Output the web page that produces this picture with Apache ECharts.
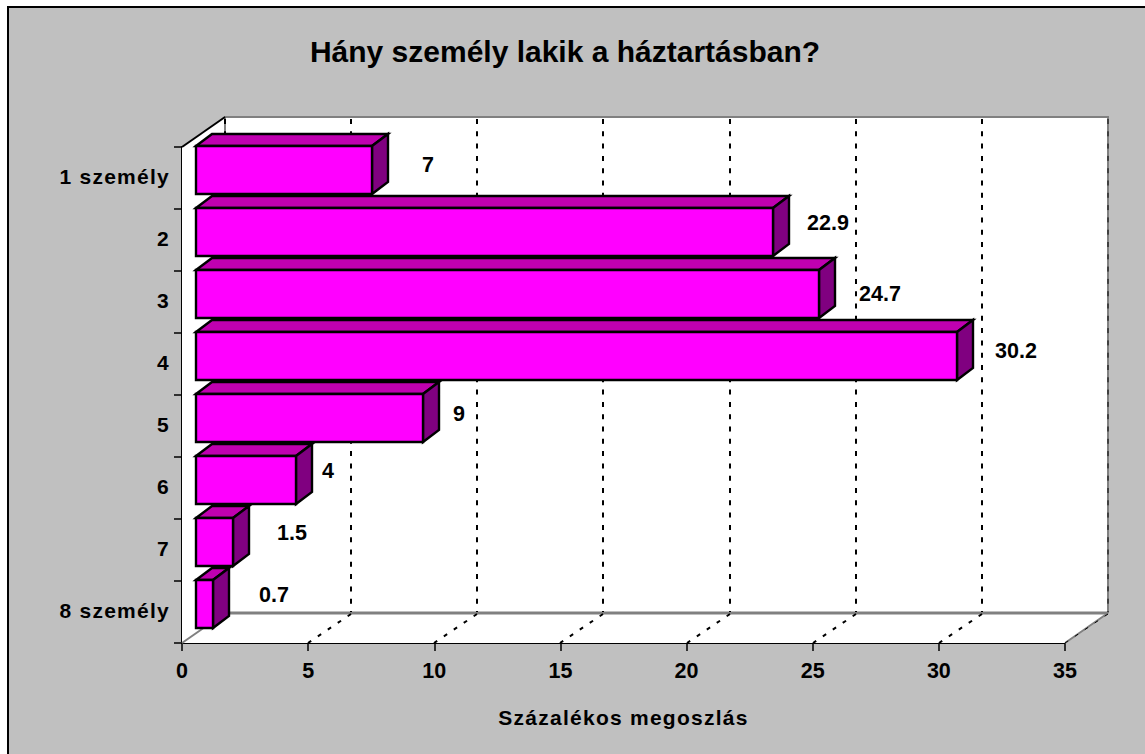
<!DOCTYPE html>
<html><head><meta charset="utf-8">
<style>
html,body{margin:0;padding:0;background:#fff}
#c{width:1145px;height:754px}
#c svg text{letter-spacing:1.25px}
#c svg text[style*="30px"],#c svg text[style*="21.5px"]{letter-spacing:0}
#c svg text[style*=" 21px"]{translate:0 -2px}
</style>
<script src="https://cdn.jsdelivr.net/npm/echarts@6/dist/echarts.min.js"></script>
</head><body><div id="c"></div>
<script>
const categories = ['1 személy','2','3','4','5','6','7','8 személy'];
const shares = [7, 22.9, 24.7, 30.2, 9, 4, 1.5, 0.7];
const ticks = [0,5,10,15,20,25,30,35];
const titleText = 'Hány személy lakik a háztartásban?';
const axisTitle = 'Százalékos megoszlás';

// label placement relative to the bar's back right corner / front centre (px)
const labelNudgeX = [40,39,45,43,20,16,43,45];
const labelNudgeY = [-5,-9,0,-5,-4,-9,-9,-9];

const WALL = {dx:43, dy:-30};    // depth of the chart box
const BAR = {inset:14, up:8, h:48, dx:16, dy:-12};
const ink = '#000', wallEdge = '#808080';

function renderFrame(params, api){
  const cs = params.coordSys, t = api.value(0);
  const x = Math.round(api.coord([t,0])[0]), yT = cs.y, yB = cs.y+cs.height;
  const kids = [];
  const D = WALL, xR = cs.x+cs.width;
  if(params.dataIndex===0){
    kids.push({type:'polygon',shape:{points:[[cs.x,yT],[cs.x+D.dx,yT+D.dy],[xR+D.dx,yT+D.dy],[xR+D.dx,yB+D.dy],[xR,yB],[cs.x,yB]]},style:{fill:'#fff'}});
    kids.push({type:'polyline',shape:{points:[[cs.x+D.dx,yB+D.dy],[cs.x+D.dx,yT+D.dy],[xR+D.dx,yT+D.dy],[xR+D.dx,yB+D.dy]]},style:{stroke:wallEdge,lineWidth:2,fill:null}});
    kids.push({type:'polyline',shape:{points:[[cs.x+D.dx,yB+D.dy],[xR+D.dx,yB+D.dy]]},style:{stroke:wallEdge,lineWidth:3,fill:null}});
    kids.push({type:'polyline',shape:{points:[[cs.x,yB],[cs.x+D.dx,yB+D.dy]]},style:{stroke:wallEdge,lineWidth:2,fill:null}});
    kids.push({type:'polyline',shape:{points:[[xR,yB],[xR+D.dx,yB+D.dy]]},style:{stroke:wallEdge,lineWidth:2,fill:null}});
    kids.push({type:'polyline',shape:{points:[[cs.x,yT],[cs.x+D.dx,yT+D.dy]]},style:{stroke:ink,lineWidth:2,fill:null}});
  }
  const w = t===ticks[ticks.length-1] ? 1 : 2;
  kids.push({type:'polyline',shape:{points:[[x+D.dx,yT+D.dy+2],[x+D.dx,yB+D.dy-1]]},style:{stroke:ink,lineWidth:w,lineDash:[5,7.3],fill:null}});
  if(t>0){
    kids.push({type:'polyline',shape:{points:[[x+D.dx,yB+D.dy+1],[x,yB]]},style:{stroke:ink,lineWidth:w,lineDash:[4,8],fill:null}});
  }
  return {type:'group',children:kids,silent:true};
}

function renderBar(params, api){
  const c = api.value(1), v = api.value(0);
  const p0 = api.coord([0,c]), p1 = api.coord([v,c]);
  const xL = Math.round(p0[0]+BAR.inset), xR = Math.floor(p1[0]+BAR.inset);
  const yMid = Math.round(p0[1]-BAR.up), yT = yMid-BAR.h/2, yB = yMid+BAR.h/2;
  const ln = {stroke:ink,lineWidth:2.4,lineJoin:'miter'};
  const i = params.dataIndex;
  return {type:'group',children:[
    {type:'polygon',shape:{points:[[xL,yT],[xL+BAR.dx,yT+BAR.dy],[xR+BAR.dx,yT+BAR.dy],[xR,yT]]},style:{fill:'#C000B0',...ln}},
    {type:'polygon',shape:{points:[[xR,yT],[xR+BAR.dx,yT+BAR.dy],[xR+BAR.dx,yB+BAR.dy],[xR,yB]]},style:{fill:'#800080',...ln}},
    {type:'rect',shape:{x:xL,y:yT,width:xR-xL,height:BAR.h},style:{fill:'#FF00FF',...ln}},
    {type:'text',x:xR+BAR.dx+labelNudgeX[i],y:yMid+labelNudgeY[i],style:{text:String(v),fill:ink,font:'bold 21.5px "Liberation Sans"',align:'center',verticalAlign:'middle'}}
  ]};
}

const chart = echarts.init(document.getElementById('c'),null,{renderer:'svg',width:1145,height:754});
chart.setOption({
  backgroundColor:'#fff',
  animation:false,
  title:{text:titleText,left:560,top:31,textAlign:'center',textStyle:{fontFamily:'Liberation Sans',fontWeight:'bold',fontSize:30,color:ink}},
  grid:{left:182,top:147,width:883,height:496,containLabel:false},
  xAxis:{type:'value',min:0,max:35,interval:5,
    name:axisTitle,nameLocation:'middle',nameGap:66,
    nameTextStyle:{fontFamily:'Liberation Sans',fontWeight:'bold',fontSize:21,color:ink},
    splitLine:{show:false},
    axisLine:{show:true,onZero:false,lineStyle:{color:ink,width:2}},
    axisTick:{show:true,length:8,lineStyle:{color:ink,width:1.5}},
    axisLabel:{margin:17,fontFamily:'Liberation Sans',fontWeight:'bold',fontSize:21.5,color:ink}},
  yAxis:{type:'category',inverse:true,data:categories,
    axisLine:{show:true,onZero:false,lineStyle:{color:ink,width:2}},
    axisTick:{show:true,length:8,alignWithLabel:false,lineStyle:{color:ink,width:1.5}},
    axisLabel:{margin:12,fontFamily:'Liberation Sans',fontWeight:'bold',fontSize:21,color:ink}},
  graphic:[
    {type:'rect',shape:{x:7,y:6,width:1138,height:748},style:{fill:'#c0c0c0'},silent:true,z:-100},
    {type:'polyline',shape:{points:[[8,754],[8,7],[1145,7]]},style:{stroke:ink,lineWidth:2,fill:null},silent:true,z:100}
  ],
  series:[
    {type:'custom',coordinateSystem:'cartesian2d',renderItem:renderFrame,data:ticks.map(t=>[t,0]),encode:{x:0,y:1},z:1},
    {type:'custom',coordinateSystem:'cartesian2d',renderItem:renderBar,data:shares.map((v,i)=>[v,i]),encode:{x:0,y:1},z:3}
  ]
});
</script></body></html>
